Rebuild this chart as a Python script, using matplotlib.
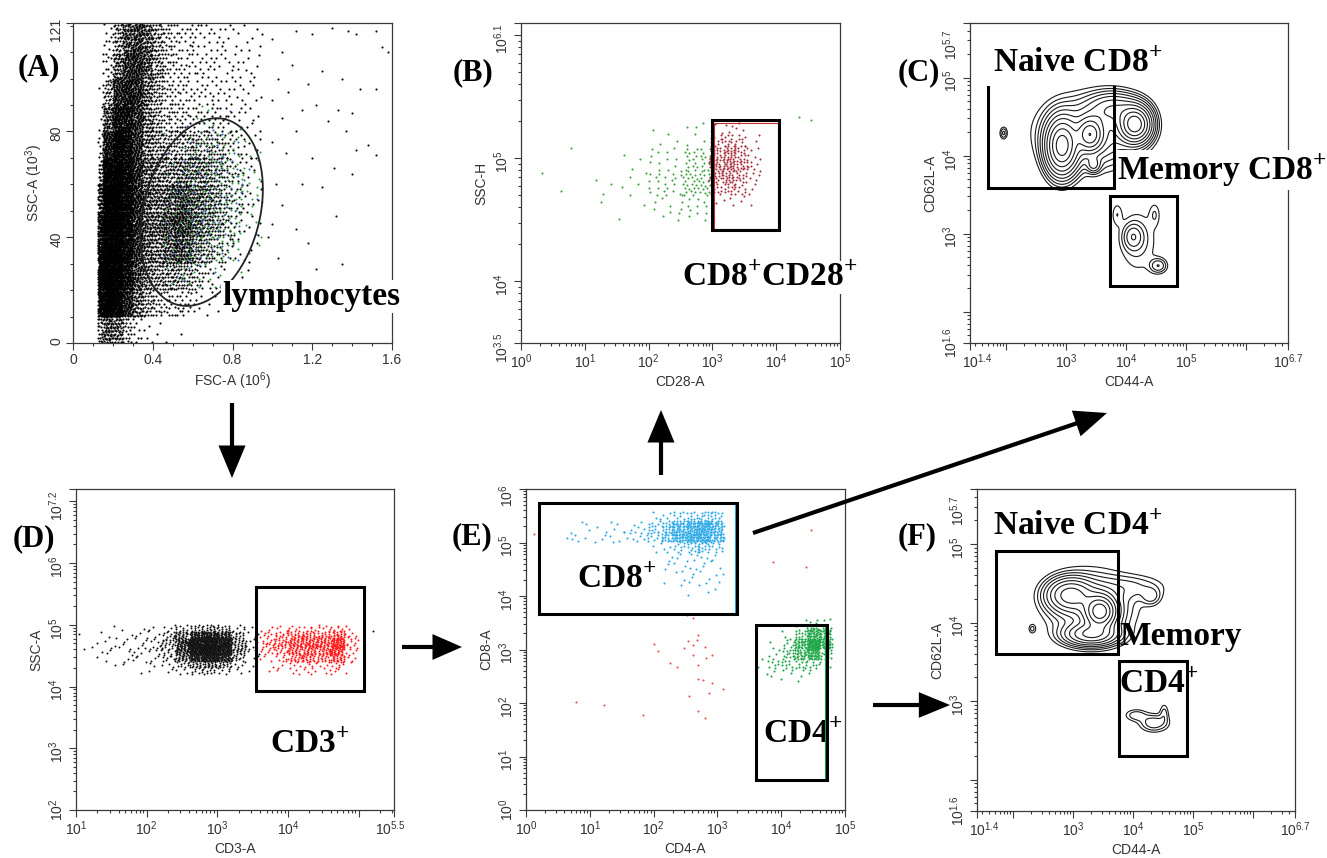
import numpy as np
import matplotlib
matplotlib.use("Agg")
import matplotlib.pyplot as plt
from matplotlib.patches import Rectangle, FancyArrowPatch, PathPatch
from matplotlib.path import Path
from matplotlib.transforms import ScaledTranslation
from matplotlib.ticker import FixedLocator, FixedFormatter, LogLocator, NullFormatter, MultipleLocator

# ------------------------------------------------------------------ data
# (A) FSC-A (10^6) vs SSC-A (10^3): event counts per cell, rows listed top -> bottom
A_x_edges = [0.125, 0.15, 0.20, 0.25, 0.30, 0.35, 0.40, 0.45, 0.50, 0.55, 0.60,
             0.65, 0.70, 0.75, 0.80, 0.85, 0.90, 0.95]
A_y_edges = [0, 10, 20, 30, 40, 50, 60, 70, 80, 90, 100, 110, 121]
A_black_counts = [
    [0, 8, 35, 70, 85, 60, 35, 18, 12, 10, 8, 7, 6, 5, 4, 4, 3],
    [0, 12, 50, 85, 90, 60, 32, 16, 12, 10, 8, 7, 6, 5, 5, 4, 3],
    [1, 30, 90, 110, 90, 50, 28, 15, 11, 9, 8, 7, 7, 6, 5, 4, 3],
    [3, 60, 130, 130, 85, 45, 28, 18, 15, 12, 10, 10, 9, 8, 6, 4, 3],
    [8, 110, 170, 140, 85, 45, 32, 26, 25, 25, 25, 22, 18, 12, 8, 5, 3],
    [20, 180, 200, 150, 90, 55, 40, 38, 42, 42, 40, 35, 25, 15, 8, 5, 3],
    [45, 230, 220, 160, 100, 60, 50, 55, 65, 62, 50, 40, 28, 18, 10, 5, 3],
    [70, 240, 230, 160, 95, 60, 55, 65, 80, 72, 50, 35, 25, 15, 8, 4, 2],
    [80, 240, 220, 150, 85, 55, 45, 55, 70, 58, 35, 25, 15, 8, 4, 2, 1],
    [85, 240, 210, 130, 70, 45, 35, 32, 32, 26, 15, 8, 5, 3, 2, 1, 0],
    [80, 220, 180, 100, 50, 28, 18, 14, 12, 10, 6, 3, 2, 1, 1, 0, 0],
    [20, 60, 50, 20, 8, 4, 2, 1, 1, 0, 0, 0, 0, 0, 0, 0, 0],
]
A_sparse_fsc = [1.0, 1.05, 1.12, 1.2, 1.3, 1.38, 1.42, 1.52, 1.55, 1.58, 1.03, 1.1, 1.18, 1.25,
                1.35, 1.44, 1.52, 1.0, 1.08, 1.15, 1.22, 1.33, 1.4, 1.05, 1.12, 1.28, 1.37, 1.48,
                1.52, 1.0, 1.07, 1.2, 1.31, 1.42, 1.02, 1.15, 1.25, 1.4, 1.05, 1.32, 1.0, 1.12,
                1.18, 1.03, 1.22, 1.35, 0.98, 1.08]
A_sparse_ssc = [115, 110, 118, 117, 119, 118, 117, 118, 112, 110, 100, 105, 98, 103,
                100, 96, 96, 92, 95, 88, 90, 88, 87, 85, 80, 84, 80, 75,
                71, 76, 72, 70, 66, 73, 60, 60, 59, 64, 52, 48, 45, 43,
                38, 32, 28, 30, 40, 20]
A_lym_x_edges = [0.45, 0.55, 0.65, 0.75, 0.85, 0.95]
A_lym_y_edges = [20, 30, 40, 50, 60, 70, 80, 90]
A_green_counts = [
    [0, 2, 3, 2, 0],
    [1, 6, 10, 8, 3],
    [3, 10, 14, 12, 6],
    [5, 12, 16, 14, 6],
    [6, 14, 16, 12, 4],
    [6, 12, 12, 8, 2],
    [3, 6, 5, 2, 0],
]
A_blue_counts = [
    [0, 1, 2, 1, 0],
    [1, 3, 5, 3, 1],
    [2, 5, 7, 5, 2],
    [2, 6, 8, 6, 2],
    [3, 7, 8, 5, 1],
    [3, 6, 6, 3, 1],
    [1, 3, 2, 1, 0],
]
A_gate_center = (0.645, 49.5)      # lymphocyte gate (ellipse)
A_gate_axes = (0.298, 35.5, 0.075)  # x semi-axis, y semi-axis, x shear

# (B) CD28-A vs SSC-H, log10 cell edges
B_green_x_edges = [0.0, 0.5, 1.0, 1.5, 2.0, 2.5, 3.0]
B_green_y_edges = [4.5, 4.7, 4.9, 5.1, 5.3]
B_green_counts = [
    [0, 0, 0, 0, 4, 8],
    [0, 1, 0, 3, 12, 32],
    [1, 1, 3, 5, 20, 45],
    [0, 0, 1, 2, 8, 15],
]
B_green_extra_x = [4.36, 4.55]
B_green_extra_y = [5.34, 5.31]
B_red_x_edges = [2.95, 3.15, 3.35, 3.55, 3.75]
B_red_y_edges = [4.6, 4.7, 4.8, 4.9, 5.0, 5.1, 5.2, 5.3]
B_red_counts = [
    [2, 4, 3, 0],
    [8, 12, 8, 2],
    [16, 22, 14, 4],
    [22, 28, 18, 6],
    [18, 22, 14, 5],
    [10, 12, 8, 3],
    [2, 3, 2, 1],
]
B_gate = (3.0, 4.05, 4.42, 5.31)   # log10 x0, x1, y0, y1

# (C) CD44-A vs CD62L-A contour populations (log10 centre, log10 spread, weight)
C_cx = [2.93, 3.40, 4.15, 3.40, 3.80, 1.96, 3.46, 4.12, 4.54, 4.20, 3.85, 4.48]
C_cy = [4.12, 4.27, 4.40, 4.30, 4.60, 4.29, 3.88, 2.96, 2.59, 2.90, 3.25, 3.25]
C_sx = [0.15, 0.12, 0.15, 0.45, 0.25, 0.04, 0.07, 0.10, 0.09, 0.22, 0.06, 0.06]
C_sy = [0.20, 0.12, 0.13, 0.25, 0.12, 0.05, 0.06, 0.10, 0.06, 0.28, 0.10, 0.10]
C_w = [1.0, 0.7, 1.1, 0.20, 0.25, 0.06, 0.12, 0.10, 0.08, 0.04, 0.03, 0.03]
C_naive_gate = (1.70, 3.80, 3.58, 4.88)
C_memory_gate = (3.73, 4.85, 2.33, 3.48)

# (D) CD3-A vs SSC-A (rows top -> bottom, 0.1-decade rows)
D_black_x_edges = [1.0, 1.2, 1.4, 1.6, 1.8, 2.0, 2.2, 2.4, 2.6, 2.8, 3.0, 3.2, 3.4, 3.6]
D_y_edges = [4.2, 4.3, 4.4, 4.5, 4.6, 4.7, 4.8, 4.9, 5.0]
D_black_counts = [
    [0, 0, 1, 1, 1, 2, 4, 8, 12, 14, 12, 5, 1],
    [1, 1, 1, 1, 2, 3, 8, 20, 32, 40, 32, 10, 3],
    [0, 1, 2, 2, 3, 4, 10, 30, 55, 65, 50, 15, 3],
    [1, 1, 2, 3, 3, 4, 10, 32, 60, 70, 55, 16, 3],
    [0, 1, 2, 2, 3, 3, 8, 28, 55, 65, 50, 14, 3],
    [0, 1, 1, 2, 2, 3, 6, 20, 40, 48, 36, 10, 2],
    [0, 0, 1, 1, 1, 2, 3, 8, 16, 20, 14, 4, 1],
    [0, 0, 0, 0, 1, 1, 2, 4, 8, 9, 6, 2, 1],
]
D_red_x_edges = [3.6, 3.8, 4.0, 4.2, 4.4, 4.6, 4.8, 5.0]
D_red_counts = [
    [2, 3, 5, 5, 5, 6, 2],
    [6, 9, 13, 15, 13, 18, 4],
    [8, 13, 23, 25, 23, 36, 6],
    [8, 13, 23, 26, 23, 36, 6],
    [5, 9, 19, 21, 19, 27, 4],
    [3, 6, 15, 17, 14, 22, 3],
    [1, 2, 5, 6, 4, 7, 1],
    [1, 1, 3, 4, 2, 3, 1],
]
D_extra_x = [5.2]
D_extra_y = [4.9]
D_gate = (3.55, 5.07, 3.93, 5.61)

# (E) CD4-A vs CD8-A
E_blue_x_edges = [0.5, 0.7, 0.9, 1.1, 1.3, 1.5, 1.7, 1.9, 2.1, 2.3, 2.5, 2.7, 2.9, 3.1]
E_blue_y_edges = [4.0, 4.2, 4.4, 4.6, 4.8, 5.0, 5.2, 5.4, 5.6]
E_blue_counts = [
    [0, 0, 0, 0, 0, 0, 0, 2, 4, 8, 10, 14, 10],
    [0, 1, 2, 2, 3, 3, 4, 10, 18, 30, 38, 45, 30],
    [2, 3, 2, 2, 3, 4, 5, 10, 20, 35, 45, 45, 30],
    [0, 0, 0, 0, 0, 0, 0, 2, 4, 8, 12, 14, 8],
    [0, 0, 0, 0, 0, 0, 0, 0, 2, 3, 4, 4, 2],
    [0, 0, 0, 0, 0, 0, 0, 0, 2, 3, 3, 2, 2],
    [0, 0, 0, 0, 0, 0, 0, 0, 1, 2, 2, 3, 2],
    [0, 0, 0, 0, 0, 0, 0, 0, 0, 0, 1, 1, 1],
]
E_green_x_edges = [3.6, 3.8, 4.0, 4.2, 4.4, 4.6, 4.8]
E_green_y_edges = [2.4, 2.6, 2.8, 3.0, 3.2, 3.4, 3.6]
E_green_counts = [
    [0, 0, 0, 2, 6, 3],
    [0, 0, 2, 12, 40, 25],
    [0, 2, 8, 30, 80, 35],
    [1, 4, 12, 28, 40, 12],
    [2, 6, 10, 10, 8, 3],
    [1, 2, 2, 2, 1, 0],
]
E_red_x = [2.0, 2.07, 2.26, 2.37, 2.47, 2.54, 2.62, 2.68, 2.70, 2.62, 2.69, 2.81, 2.82, 2.91,
           2.70, 2.78, 2.91, 3.09, 2.87, 2.56, 2.70, 2.81, 0.78, 1.23, 1.83, 2.52, 2.62,
           3.87, 4.39, 4.47, 0.13]
E_red_y = [3.11, 2.98, 2.75, 2.68, 3.03, 3.15, 3.09, 3.18, 3.27, 2.90, 2.71, 3.04, 2.84, 2.90,
           2.45, 2.43, 2.37, 2.26, 2.18, 2.13, 1.85, 1.72, 2.01, 1.96, 1.77, 3.65, 3.58,
           4.63, 4.54, 5.24, 5.15]
E_cd8_gate = (0.2, 3.31, 3.66, 5.74)
E_cd4_gate = (3.6, 4.72, 0.56, 3.46)

# (F) CD44-A vs CD62L-A (CD4 cells)
F_cx = [3.45, 2.95, 3.30, 3.30, 4.30, 4.00, 2.32, 4.05, 4.35, 4.52]
F_cy = [4.14, 4.35, 3.85, 4.20, 4.33, 4.45, 3.92, 2.82, 2.72, 2.85]
F_sx = [0.15, 0.22, 0.25, 0.40, 0.10, 0.35, 0.04, 0.12, 0.15, 0.05]
F_sy = [0.12, 0.12, 0.08, 0.25, 0.07, 0.10, 0.04, 0.05, 0.07, 0.08]
F_w = [1.0, 0.5, 0.45, 0.15, 0.06, 0.05, 0.04, 0.05, 0.08, 0.04]
F_naive_gate = (1.72, 3.75, 3.60, 4.91)
F_memory_gate = (3.77, 4.90, 2.30, 3.51)

CONTOUR_LEVELS = [0.02, 0.035, 0.055, 0.085, 0.13, 0.2, 0.3, 0.45, 0.65, 0.9]

# ------------------------------------------------------------------ helpers
W, H = 1327, 858
fig = plt.figure(figsize=(W / 100, H / 100), dpi=100)
fig.patch.set_facecolor("white")

SANS = "Liberation Sans"
SERIF = "Liberation Serif"
SPINE = "#3a3a3a"
TXT = "#333333"


def ax_at(l, r, t, b):
    return fig.add_axes([l / W, 1 - b / H, (r - l) / W, (b - t) / H])


def grid_points(xe, ye, counts_top_down, off=0.0):
    counts = np.asarray(counts_top_down)[::-1]
    g1, g2 = 0.7548776662466927, 0.5698402909980532
    xs, ys = [], []
    for r in range(counts.shape[0]):
        for c in range(counts.shape[1]):
            n = int(counts[r, c])
            if n == 0:
                continue
            i = np.arange(1, n + 1)
            u = (0.5 + g1 * i + 0.318 * r + 0.577 * c + off) % 1.0
            v = (0.5 + g2 * i + 0.731 * r + 0.283 * c + off) % 1.0
            xs.append(xe[c] + (xe[c + 1] - xe[c]) * u)
            ys.append(ye[r] + (ye[r + 1] - ye[r]) * v)
    return np.concatenate(xs), np.concatenate(ys)


def sup(base, exp):
    return base + r"$^{\mathregular{" + exp + "}}$"


def style_axes(ax):
    for s in ax.spines.values():
        s.set_color(SPINE)
        s.set_linewidth(0.9)
    ax.tick_params(which="both", direction="out", color=SPINE, width=0.8,
                   labelcolor=TXT, labelsize=10, pad=2)
    ax.tick_params(which="major", length=5)
    ax.tick_params(which="minor", length=2.5)
    ax.tick_params(axis="y", labelrotation=90)
    for lab in ax.get_xticklabels() + ax.get_yticklabels():
        lab.set_fontfamily(SANS)
    ax.set_facecolor("white")


def log_axis(axis, lo, hi, majors, labels):
    axis.set_major_locator(FixedLocator([10 ** m for m in majors]))
    axis.set_major_formatter(FixedFormatter([sup("10", l) if l else "" for l in labels]))
    axis.set_minor_locator(LogLocator(base=10, subs=np.arange(2, 10), numticks=50))
    axis.set_minor_formatter(NullFormatter())


def shift_label(axis, idx, dx_px, dy_px):
    ticks = axis.get_major_ticks()
    lab = ticks[idx].label1
    lab.set_transform(lab.get_transform() + ScaledTranslation(dx_px / 100, dy_px / 100,
                                                              fig.dpi_scale_trans))


def setup_log(ax, xr, yr, xm, xl, ym, yl, xlabel, ylabel):
    ax.set_xscale("log")
    ax.set_yscale("log")
    ax.set_xlim(10 ** xr[0], 10 ** xr[1])
    ax.set_ylim(10 ** yr[0], 10 ** yr[1])
    log_axis(ax.xaxis, *xr, xm, xl)
    log_axis(ax.yaxis, *yr, ym, yl)
    ax.set_xlabel(xlabel, fontsize=10, color=TXT, family=SANS, labelpad=3)
    ax.set_ylabel(ylabel, fontsize=10, color=TXT, family=SANS, labelpad=3)
    style_axes(ax)


def gate(ax, g, lw=2.2, color="black", z=4, open_top=False):
    x0, x1, y0, y1 = [10 ** v for v in g]
    if open_top:
        ax.plot([x0, x0, x1, x1], [y1, y0, y0, y1], color=color, lw=lw, zorder=z,
                solid_joinstyle="miter")
    else:
        ax.add_patch(Rectangle((x0, y0), x1 - x0, y1 - y0, fill=False, ec=color,
                               lw=lw, zorder=z, joinstyle="miter"))


def big_text(ax, px, py, s, bbox=True, size=24):
    kw = dict(transform=fig.transFigure, clip_on=False, zorder=3, fontsize=size,
              fontweight="bold", family=SERIF, ha="left", va="baseline", color="black")
    if bbox:
        kw["bbox"] = dict(facecolor="white", edgecolor="none", pad=1.0)
    ax.text(px / W, 1 - py / H, s, **kw)


def panel_letter(px, py, s):
    fig.text(px / W, 1 - py / H, s, fontsize=22, fontweight="bold", family=SERIF,
             ha="left", va="baseline", zorder=5)


def density(cx, cy, sx, sy, w, X, Y):
    Z = np.zeros_like(X)
    for a, b, c, d, e in zip(cx, cy, sx, sy, w):
        Z += e * np.exp(-0.5 * (((X - a) / c) ** 2 + ((Y - b) / d) ** 2))
    return Z


def arrow(p0, p1, hl=18, hw=7.5, lw=3.0):
    a = FancyArrowPatch((p0[0] / W, 1 - p0[1] / H), (p1[0] / W, 1 - p1[1] / H),
                        transform=fig.transFigure,
                        arrowstyle=f"-|>,head_length={hl},head_width={hw}",
                        mutation_scale=1, lw=lw, color="black",
                        shrinkA=0, shrinkB=0, joinstyle="miter", capstyle="butt")
    fig.add_artist(a)


# ------------------------------------------------------------------ (A)
axA = ax_at(73, 392, 23, 343)
bx, by = grid_points(A_x_edges, A_y_edges, A_black_counts)
axA.scatter(bx, by, s=2.4, c="#000000", linewidths=0, zorder=1)
axA.scatter(A_sparse_fsc, A_sparse_ssc, s=2.4, c="#111111", linewidths=0, zorder=1)
gx, gy = grid_points(A_lym_x_edges, A_lym_y_edges, A_green_counts, off=0.21)
axA.scatter(gx, gy, s=2.2, c="#2f9a3a", linewidths=0, zorder=2)
ux, uy = grid_points(A_lym_x_edges, A_lym_y_edges, A_blue_counts, off=0.47)
axA.scatter(ux, uy, s=2.2, c="#3b62b0", linewidths=0, zorder=2)
t = np.linspace(0, 2 * np.pi, 200)
ex = A_gate_center[0] + A_gate_axes[0] * np.cos(t) + A_gate_axes[2] * np.sin(t)
ey = A_gate_center[1] + A_gate_axes[1] * np.sin(t)
axA.add_patch(PathPatch(Path(np.column_stack([ex, ey])), fill=False, ec="#222222",
                        lw=1.3, zorder=2.2))
axA.set_xlim(0, 1.6)
axA.set_ylim(0, 121)
axA.xaxis.set_major_locator(FixedLocator([0, 0.4, 0.8, 1.2, 1.6]))
axA.xaxis.set_major_formatter(FixedFormatter(["0", "0.4", "0.8", "1.2", "1.6"]))
axA.xaxis.set_minor_locator(MultipleLocator(0.1))
axA.yaxis.set_major_locator(FixedLocator([0, 40, 80, 121]))
axA.yaxis.set_major_formatter(FixedFormatter(["0", "40", "80", "121"]))
axA.yaxis.set_minor_locator(MultipleLocator(10))
axA.set_xlabel(sup("FSC-A (10", "6") + ")", fontsize=10, color=TXT, family=SANS, labelpad=3)
axA.set_ylabel(sup("SSC-A (10", "3") + ")", fontsize=10, color=TXT, family=SANS, labelpad=3)
style_axes(axA)
big_text(axA, 222, 305, "lymphocytes")

# ------------------------------------------------------------------ (B)
axB = ax_at(521, 840, 23, 343)
setup_log(axB, (0, 5), (3.5, 6.1), [0, 1, 2, 3, 4, 5], ["0", "1", "2", "3", "4", "5"],
          [3.5, 4, 5, 6, 6.1], ["3.5", "4", "5", "", "6.1"], "CD28-A", "SSC-H")
shift_label(axB.yaxis, 0, 0, 3)
shift_label(axB.yaxis, 4, 0, -8)
gx, gy = grid_points(B_green_x_edges, B_green_y_edges, B_green_counts, off=0.1)
axB.scatter(10 ** gx, 10 ** gy, s=2.2, c="#3aa03a", linewidths=0, zorder=1)
axB.scatter(10 ** np.array(B_green_extra_x), 10 ** np.array(B_green_extra_y), s=2.2,
            c="#3aa03a", linewidths=0, zorder=1)
rx, ry = grid_points(B_red_x_edges, B_red_y_edges, B_red_counts, off=0.3)
axB.scatter(10 ** rx, 10 ** ry, s=2.2, c="#a8303c", linewidths=0, zorder=1)
gate(axB, (B_gate[0] + 0.03, B_gate[1] - 0.02, B_gate[2] + 0.01, B_gate[3] - 0.02),
     lw=0.8, color="#c03030", z=3.5)
gate(axB, B_gate)
big_text(axB, 682, 286, "CD8" + sup("", "+") + "CD28" + sup("", "+"))

# ------------------------------------------------------------------ (C)
axC = ax_at(970, 1288, 23, 343)
setup_log(axC, (1.4, 6.7), (1.6, 5.7), [1.4, 2, 3, 4, 5, 6, 6.7],
          ["1.4", "", "3", "4", "5", "", "6.7"],
          [1.6, 2, 3, 4, 5, 5.7], ["1.6", "", "3", "4", "5", "5.7"], "CD44-A", "CD62L-A")
shift_label(axC.xaxis, 0, 7, 0)
shift_label(axC.yaxis, 0, 0, 8)
shift_label(axC.yaxis, 5, 0, -14)
gxs = np.linspace(1.4, 6.7, 400)
gys = np.linspace(1.6, 5.7, 400)
X, Y = np.meshgrid(gxs, gys)
Z = density(C_cx, C_cy, C_sx, C_sy, C_w, X, Y)
axC.contour(10 ** X, 10 ** Y, Z, levels=CONTOUR_LEVELS, colors="#1a1a1a", linewidths=0.8,
            zorder=2)
gate(axC, C_naive_gate, open_top=True)
gate(axC, C_memory_gate)
big_text(axC, 993, 72, "Naive CD8" + sup("", "+"), bbox=False)
big_text(axC, 1117, 180, "Memory CD8" + sup("", "+"))

# ------------------------------------------------------------------ (D)
axD = ax_at(76, 394, 489, 810)
setup_log(axD, (1, 5.5), (2, 7.2), [1, 2, 3, 4, 5, 5.5], ["1", "2", "3", "4", "", "5.5"],
          [2, 3, 4, 5, 6, 7, 7.2], ["2", "3", "4", "5", "6", "", "7.2"], "CD3-A", "SSC-A")
shift_label(axD.yaxis, 0, 0, 4)
shift_label(axD.yaxis, 6, 0, -9)
shift_label(axD.xaxis, 5, -4, 0)
kx, ky = grid_points(D_black_x_edges, D_y_edges, D_black_counts, off=0.05)
axD.scatter(10 ** kx, 10 ** ky, s=2.0, c="#111111", linewidths=0, zorder=1)
axD.scatter(10 ** np.array(D_extra_x), 10 ** np.array(D_extra_y), s=2.0, c="#111111",
            linewidths=0, zorder=1)
rx, ry = grid_points(D_red_x_edges, D_y_edges, D_red_counts, off=0.4)
axD.scatter(10 ** rx, 10 ** ry, s=2.0, c="#ff1a1a", linewidths=0, zorder=1)
gate(axD, D_gate)
big_text(axD, 270, 753, "CD3" + sup("", "+"), bbox=False)

# ------------------------------------------------------------------ (E)
axE = ax_at(526, 845, 489, 810)
setup_log(axE, (0, 5), (0, 6), [0, 1, 2, 3, 4, 5], ["0", "1", "2", "3", "4", "5"],
          [0, 1, 2, 3, 4, 5, 6], ["0", "1", "2", "3", "4", "5", "6"], "CD4-A", "CD8-A")
shift_label(axE.yaxis, 0, 0, 4)
shift_label(axE.yaxis, 6, 0, -3)
cx_, cy_ = grid_points(E_blue_x_edges, E_blue_y_edges, E_blue_counts, off=0.15)
axE.scatter(10 ** cx_, 10 ** cy_, s=2.2, c="#2aa8e6", linewidths=0, zorder=1)
gx, gy = grid_points(E_green_x_edges, E_green_y_edges, E_green_counts, off=0.6)
axE.scatter(10 ** gx, 10 ** gy, s=2.2, c="#1ea546", linewidths=0, zorder=1)
axE.scatter(10 ** np.array(E_red_x), 10 ** np.array(E_red_y), s=2.2, c="#f04848",
            linewidths=0, zorder=1)
gate(axE, (E_cd8_gate[0], E_cd8_gate[1] - 0.03, E_cd8_gate[2], E_cd8_gate[3]),
     lw=0.8, color="#2aa8e6", z=3.5)
gate(axE, (E_cd4_gate[0], E_cd4_gate[1] - 0.03, E_cd4_gate[2], E_cd4_gate[3]),
     lw=0.8, color="#1ea546", z=3.5)
gate(axE, E_cd8_gate)
gate(axE, E_cd4_gate)
big_text(axE, 577, 588, "CD8" + sup("", "+"), bbox=False)
big_text(axE, 763, 743, "CD4" + sup("", "+"))

# ------------------------------------------------------------------ (F)
axF = ax_at(977, 1295, 489, 811)
setup_log(axF, (1.4, 6.7), (1.6, 5.7), [1.4, 2, 3, 4, 5, 6, 6.7],
          ["1.4", "", "3", "4", "5", "", "6.7"],
          [1.6, 2, 3, 4, 5, 5.7], ["1.6", "", "3", "4", "5", "5.7"], "CD44-A", "CD62L-A")
shift_label(axF.xaxis, 0, 7, 0)
shift_label(axF.yaxis, 0, 0, 8)
shift_label(axF.yaxis, 5, 0, -14)
Z = density(F_cx, F_cy, F_sx, F_sy, F_w, X, Y)
axF.contour(10 ** X, 10 ** Y, Z, levels=CONTOUR_LEVELS, colors="#1a1a1a", linewidths=0.8,
            zorder=2)
gate(axF, F_naive_gate)
gate(axF, F_memory_gate)
big_text(axF, 993, 535, "Naive CD4" + sup("", "+"), bbox=False)
big_text(axF, 1119, 645, "Memory", bbox=False)
big_text(axF, 1119, 693, "CD4" + sup("", "+"), bbox=False)

# ------------------------------------------------------------------ panel letters
panel_letter(18, 75, "(A)")
panel_letter(453, 80, "(B)")
panel_letter(898, 80, "(C)")
panel_letter(13, 546, "(D)")
panel_letter(452, 544, "(E)")
panel_letter(898, 544, "(F)")

# ------------------------------------------------------------------ arrows
arrow((232, 403), (232, 478))
arrow((402, 647), (462, 647), hl=16, hw=7)
arrow((661, 475), (661, 410))
arrow((753, 533), (1107, 413))
arrow((873, 705), (950, 705), hl=17, hw=7)

fig.savefig("out.png", dpi=100, facecolor="white")
